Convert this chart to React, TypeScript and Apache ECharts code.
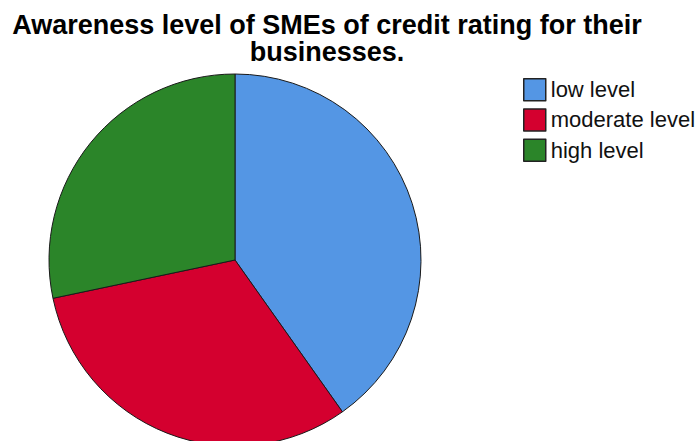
import React, { useEffect, useRef } from "react";
import * as echarts from "echarts";

const categories = ["low level", "moderate level", "high level"];
const values = [40.2, 31.5, 28.3];
const colors = ["#5496E4", "#D4002F", "#2B8529"];
const titleLines = ["Awareness level of SMEs of credit rating for their", "businesses."];

export default function App() {
  const ref = useRef<HTMLDivElement>(null);
  useEffect(() => {
    if (!ref.current) return;
    const chart = echarts.init(ref.current, null, { renderer: "svg" });
    chart.setOption({
      animation: false,
      backgroundColor: "#ffffff",
      graphic: titleLines.map((t, i) => ({
        type: "text",
        x: 327,
        y: 11 + i * 27,
        style: {
          text: t,
          align: "center",
          verticalAlign: "top",
          font: "bold 27px 'Liberation Sans', Arial, sans-serif",
          lineHeight: 27,
          fill: "#000",
        },
      })),
      legend: {
        orient: "vertical",
        left: 523,
        top: 78,
        padding: 0,
        itemWidth: 22,
        itemHeight: 22,
        itemGap: 6.7,
        icon: "rect",
        data: categories,
        itemStyle: { borderColor: "#222", borderWidth: 1.5 },
        textStyle: {
          fontFamily: "'Liberation Sans', Arial, sans-serif",
          fontSize: 22,
          lineHeight: 22,
          color: "#111",
        },
      },
      series: [
        {
          type: "pie",
          center: [235, 260],
          radius: 186,
          startAngle: 90,
          clockwise: true,
          label: { show: false },
          labelLine: { show: false },
          emphasis: { disabled: true },
          itemStyle: { borderColor: "#1a1a1a", borderWidth: 1 },
          data: categories.map((name, i) => ({
            name,
            value: values[i],
            itemStyle: { color: colors[i] },
          })),
        },
      ],
    });
    return () => chart.dispose();
  }, []);
  return (
    <div
      ref={ref}
      style={{ position: "fixed", left: 0, top: 0, width: 696, height: 441, background: "#fff" }}
    />
  );
}
